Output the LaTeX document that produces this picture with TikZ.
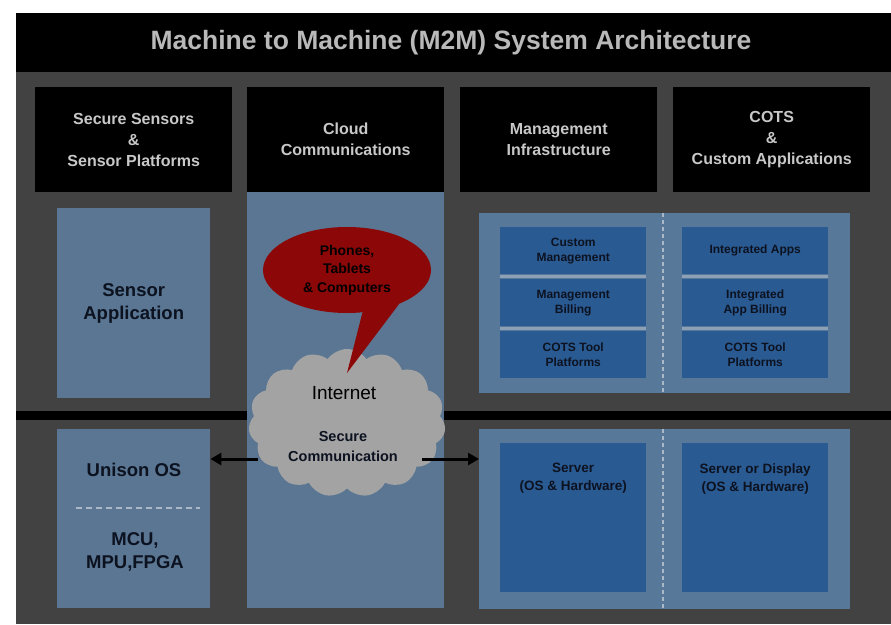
\documentclass[tikz,border=0pt]{standalone}
\usepackage{fontspec}
\setmainfont{Liberation Sans}
\usepackage{tikz}
\usetikzlibrary{positioning,shapes.symbols,shapes.geometric,arrows.meta}

\definecolor{bgdark}{RGB}{66,66,66}
\definecolor{hdrtext}{RGB}{200,200,200}
\definecolor{titletext}{RGB}{185,185,185}
\definecolor{steel}{RGB}{90,118,146}
\definecolor{panel}{RGB}{88,120,154}
\definecolor{innerblue}{RGB}{42,90,146}
\definecolor{sepline}{RGB}{140,160,182}
\definecolor{dashgrey}{RGB}{170,184,200}
\definecolor{cloudgrey}{RGB}{163,163,163}
\definecolor{callred}{RGB}{140,8,8}
\definecolor{inktext}{RGB}{12,18,32}

\begin{document}
\begin{tikzpicture}[x=1pt,y=-1pt,
  hdr/.style={fill=black, text=hdrtext, minimum width=197pt, minimum height=105pt,
    anchor=north west, align=center, font=\bfseries\fontsize{16}{21}\selectfont},
  colbox/.style={fill=steel, anchor=north west, inner sep=0pt},
  panelbox/.style={fill=panel, anchor=north west, inner sep=0pt,
    minimum width=371pt, minimum height=#1},
  cell/.style={fill=innerblue, anchor=north west, minimum width=146pt, minimum height=47pt,
    align=center, text=inktext, font=\bfseries\fontsize{12}{15}\selectfont},
  srvbox/.style={fill=innerblue, anchor=north west, minimum width=146pt, minimum height=149pt},
  srvtext/.style={text=inktext, align=center, anchor=north, font=\bfseries\fontsize{13.5}{18}\selectfont},
  bigtext/.style={text=inktext, align=center, font=\bfseries\fontsize{18.5}{23}\selectfont},
  sepstroke/.style={draw=sepline, line width=2.5pt},
  dashstroke/.style={draw=dashgrey, line width=2pt, dash pattern=on 4pt off 3pt},
  linkarrow/.style={draw=black, line width=3pt, -{Triangle[length=11pt,width=12pt]}}]

\useasboundingbox (0,0) rectangle (891,624);

% background and title bar
\fill[bgdark] (16,13) rectangle (891,624);
\fill[black] (16,13) rectangle (891,72);
\node[text=titletext, font=\bfseries\fontsize{26.5}{30}\selectfont] (title) at (451,43)
  {Machine to Machine (M2M) System Architecture};

% divider between the two layers
\fill[black] (16,411) rectangle (891,420);

% column headers
\node[hdr] (hsens) at (35,87) {Secure Sensors\\\&\\Sensor Platforms};
\node[hdr] (hcloud) at (247,87) {Cloud\\Communications};
\node[hdr] (hmgmt) at (460,87) {Management\\Infrastructure};
\node[hdr] (hcots) at (673,87) {COTS\\\&\\Custom Applications};

% sensor column
\node[colbox, minimum width=153pt, minimum height=190pt, bigtext] (sensapp) at (57,208)
  {Sensor\\Application};
\node[colbox, minimum width=153pt, minimum height=179pt] (unison) at (57,429) {};
\node[bigtext] (unisonos) at (134,470) {Unison OS};
\draw[dashstroke, dash pattern=on 6pt off 4pt, line width=2.5pt] (76,508) -- (200,508);
\node[bigtext] (mcu) at (135,552) {MCU,\\MPU,FPGA};

% cloud column
\node[colbox, minimum width=197pt, minimum height=416pt] (ccol) at (247,192) {};

% management / applications panel
\node[panelbox=180pt] (mpanel) at (479,213) {};
\draw[dashstroke] (663,213) -- (663,393);
\node[cell] (custmgmt) at (500,227) {Custom\\Management};
\node[cell] (mgmtbill) at (500,279) {Management\\Billing};
\node[cell] (cotsl) at (500,331) {COTS Tool\\Platforms};
\node[cell] (intapps) at (682,227) {Integrated Apps};
\node[cell] (appbill) at (682,279) {Integrated\\App Billing};
\node[cell] (cotsr) at (682,331) {COTS Tool\\Platforms};
\draw[sepstroke] (custmgmt.south west) ++(0,2) -- ++(146,0);
\draw[sepstroke] (mgmtbill.south west) ++(0,2) -- ++(146,0);
\draw[sepstroke] (intapps.south west) ++(0,2) -- ++(146,0);
\draw[sepstroke] (appbill.south west) ++(0,2) -- ++(146,0);

% server panel
\node[panelbox=180pt] (srvpanel) at (479,429) {};
\draw[dashstroke] (663,429) -- (663,609);
\node[srvbox] (srvl) at (500,443) {};
\node[srvbox] (srvr) at (682,443) {};
\node[srvtext, below=17pt of srvl.north] (srvltext) {Server\\(OS \& Hardware)};
\node[srvtext, below=17pt of srvr.north] (srvrtext) {Server or Display\\(OS \& Hardware)};

% internet cloud and callout
\node[cloud, cloud puffs=15, cloud puff arc=110, aspect=1.3, fill=cloudgrey,
  minimum width=197pt, minimum height=148pt] (inet) at (347,423) {};
\node[text=black, font=\fontsize{19}{22}\selectfont] (inettext) at (344,393) {Internet};
\node[text=inktext, align=center, font=\bfseries\fontsize{14.5}{20}\selectfont] (secure) at (343,447)
  {Secure\\Communication};
\node[ellipse, fill=callred, minimum width=168pt, minimum height=86pt, inner sep=0pt,
  text=black, align=center, font=\bfseries\fontsize{14}{18.5}\selectfont] (phones) at (347,270)
  {Phones,\\Tablets\\\& Computers};
\coordinate (tip) at (347,373);
\fill[callred] (phones.-70) -- (tip) -- (phones.-33) -- cycle;

% links to the sensor and server layers
\coordinate (lstart) at (258,459);
\coordinate (rstart) at (422,459);
\draw[linkarrow] (lstart) -- (unison.east |- lstart);
\draw[linkarrow] (rstart) -- (srvpanel.west |- rstart);
\end{tikzpicture}
\end{document}
